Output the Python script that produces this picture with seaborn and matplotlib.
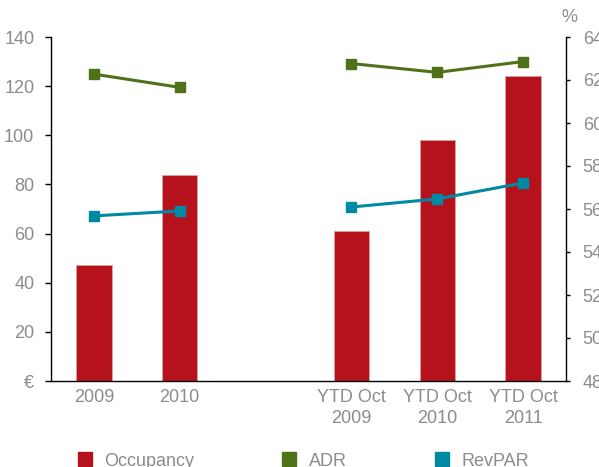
import numpy as np
import pandas as pd
import matplotlib
matplotlib.use("Agg")
import matplotlib.pyplot as plt
from matplotlib.lines import Line2D
import seaborn as sns

categories = ["2009", "2010", " ", "YTD Oct\n2009", "YTD Oct\n2010", "YTD Oct\n2011"]
occupancy = [53.4, 57.6, np.nan, 55.0, 59.2, 62.2]
adr = [124.9, 119.5, np.nan, 129.2, 125.6, 130.0]
revpar = [67.2, 69.2, np.nan, 70.8, 74.1, 80.6]
left_ticks = [0, 20, 40, 60, 80, 100, 120, 140]
left_labels = ["€", "20", "40", "60", "80", "100", "120", "140"]
right_ticks = [48, 50, 52, 54, 56, 58, 60, 62, 64]

RED = "#B5121B"
GREEN = "#4E7119"
TEAL = "#0089A3"
GREY = "#8C8C8C"

sns.set_theme(style="white")
plt.rcParams["font.family"] = ["Liberation Sans", "DejaVu Sans"]

fig = plt.figure(figsize=(5.99, 4.67), dpi=100)
ax = fig.add_axes([51/599, 1-381/467, (566-51)/599, (381-37)/467])

df = pd.DataFrame({"cat": categories, "occ": occupancy}).dropna()
sns.barplot(data=df, x="cat", y="occ", order=categories, color=RED,
            saturation=1, width=0.41, ax=ax, edgecolor="#D9A0A3", linewidth=0.6)
ax.set_ylim(48, 64)
ax.set_xlim(-0.5, len(categories) - 0.5)
ax.set_xlabel("")
ax.set_ylabel("")

ax2 = ax.twinx()
x = np.arange(len(categories))
ax2.plot(x, adr, color=GREEN, lw=2.2, marker="s", ms=7.5, zorder=3)
ax2.plot(x, revpar, color=TEAL, lw=2.2, marker="s", ms=7.5, zorder=3)
ax2.set_ylim(0, 140)

# bars axis -> right side; lines axis -> left side
ax.set_yticks(right_ticks)
ax.yaxis.set_ticks_position("right")
ax.tick_params(axis="y", left=False, labelleft=False, right=True, labelright=True)
ax2.set_yticks(left_ticks)
ax2.set_yticklabels(left_labels)
ax2.yaxis.set_ticks_position("left")
ax2.tick_params(axis="y", left=True, labelleft=True, right=False, labelright=False)

for a in (ax, ax2):
    for s in a.spines.values():
        s.set_visible(False)
ax2.spines["left"].set_visible(True)
ax2.spines["left"].set_color("black")
ax2.spines["left"].set_linewidth(1.0)
ax2.spines["right"].set_visible(True)
ax2.spines["right"].set_color("black")
ax2.spines["right"].set_linewidth(1.0)
ax.spines["bottom"].set_visible(True)
ax.spines["bottom"].set_color("black")
ax.spines["bottom"].set_linewidth(1.0)

ax.set_xticks(np.arange(len(categories)))
ax.set_xticklabels(categories)
ax.set_xticks(np.arange(len(categories) + 1) - 0.5, minor=True)
ax.tick_params(axis="x", which="major", length=0, pad=6, labelsize=13, labelcolor=GREY)
ax.tick_params(axis="x", which="minor", length=4, width=1, color="black", direction="out")
ax.tick_params(axis="y", length=3, width=1, color="black", direction="out",
               labelsize=13, labelcolor=GREY, pad=9)
ax2.tick_params(axis="y", length=4, width=1, color="black", direction="out",
                labelsize=13, labelcolor=GREY, pad=8)
for lbl in ax.get_xticklabels():
    lbl.set_linespacing(1.25)

fig.text(569/599, 1-17/467, "%", ha="center", va="center", fontsize=13, color=GREY)

handles = [Line2D([], [], ls="none", marker="s", ms=10, color=c) for c in (RED, GREEN, TEAL)]
fig.legend(handles, ["Occupancy", "ADR", "RevPAR"], loc="center",
           bbox_to_anchor=(0.505, 1-461/467), ncol=3, frameon=False,
           fontsize=13, labelcolor=GREY, columnspacing=4.75, handletextpad=0.6,
           handlelength=1.0)

fig.savefig("out.png", dpi=100)
